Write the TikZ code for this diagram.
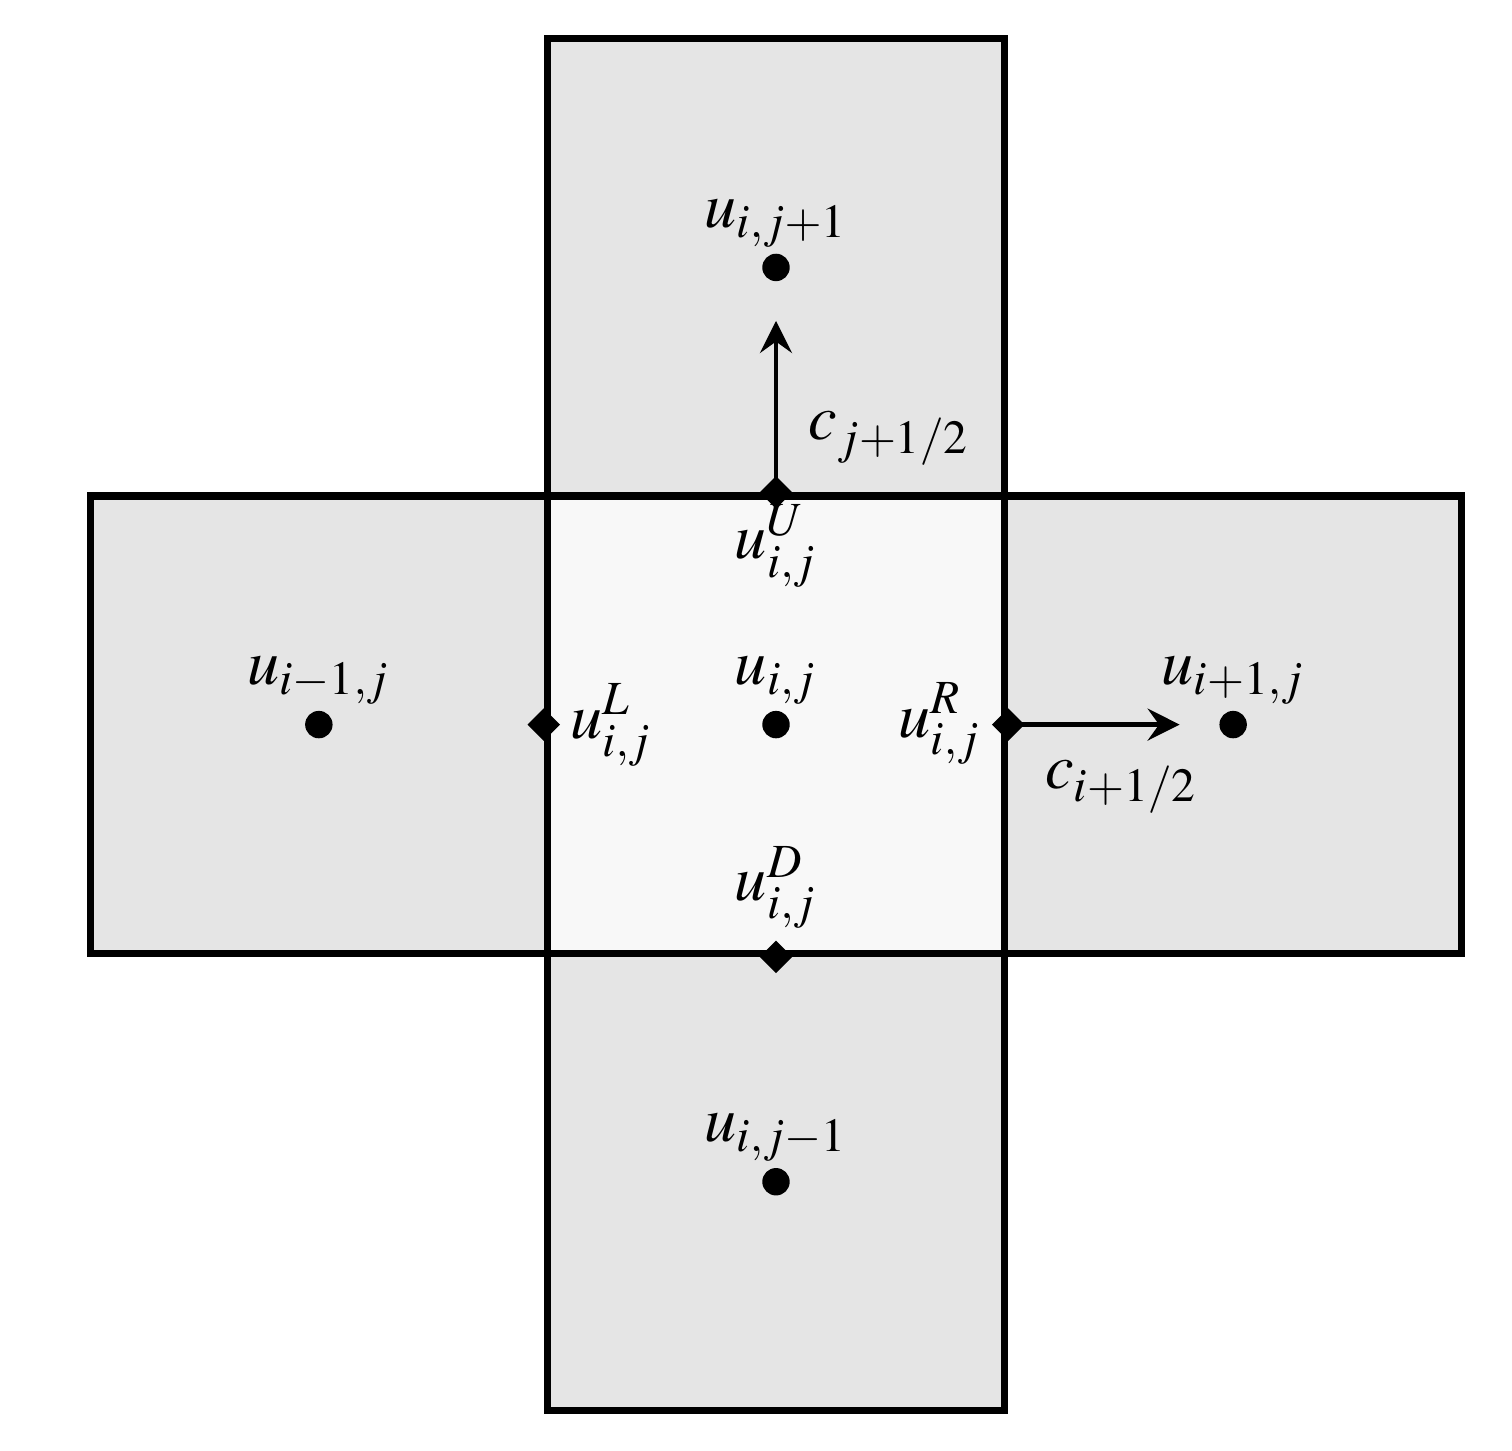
\documentclass[tikz,border=0pt]{standalone}
\usepackage{mathptmx}
\usepackage{tikz}
\usetikzlibrary{arrows.meta,positioning,calc,shapes.geometric}
\definecolor{cellgrey}{HTML}{E5E5E5}
\definecolor{midgrey}{HTML}{F8F8F8}
\tikzset{
  cell/.style       = {draw, line width=1.8pt, fill=cellgrey, minimum size=40mm,
                       inner sep=0pt},
  centre/.style     = {cell, fill=midgrey},
  dot/.style        = {circle, fill, minimum size=2.4mm, inner sep=0pt},
  facept/.style     = {diamond, fill, minimum size=2.9mm, inner sep=0pt},
  flux/.style       = {-{Stealth[length=2.8mm, width=2.8mm, inset=1mm]}, line width=1.1pt},
  lbl/.style        = {anchor=base, inner sep=0pt, font=\fontsize{16}{19}\selectfont},
}
\begin{document}
\begin{tikzpicture}
  \useasboundingbox (-6.79,-6.35) rectangle (6.44,6.34);
  % the five cells
  \node[cell] (up)    at (0,4)  {};
  \node[cell] (down)  at (0,-4) {};
  \node[cell] (left)  at (-4,0) {};
  \node[cell] (right) at (4,0)  {};
  \node[centre] (mid) at (0,0)  {};
  % cell averages
  \node[dot] (cU) at (up)    {};
  \node[dot] (cD) at (down)  {};
  \node[dot] (cL) at (left)  {};
  \node[dot] (cR) at (right) {};
  \node[dot] (cM) at (mid)   {};
  \node[lbl] at ($(cU)+(0,0.35)$) {$u_{i,j+1}$};
  \node[lbl] at ($(cD)+(0,0.35)$) {$u_{i,j-1}$};
  \node[lbl] at ($(cL)+(0,0.35)$) {$u_{i-1,j}$};
  \node[lbl] at ($(cR)+(0,0.35)$) {$u_{i+1,j}$};
  \node[lbl] at ($(cM)+(0,0.35)$) {$u_{i,j}$};
  % reconstructed face values
  \node[facept] (fU) at (mid.north) {};
  \node[facept] (fD) at (mid.south) {};
  \node[facept] (fL) at (mid.west)  {};
  \node[facept] (fR) at (mid.east)  {};
  \node[lbl] at ($(fU)+(0,-0.58)$)    {$u_{i,j}^{U}$};
  \node[lbl] at ($(fD)+(0,0.49)$)     {$u_{i,j}^{D}$};
  \node[lbl] at ($(fL)+(0.59,-0.12)$) {$u_{i,j}^{L}$};
  \node[lbl] at ($(fR)+(-0.60,-0.11)$) {$u_{i,j}^{R}$};
  % local speeds
  \coordinate (aU) at ($(fU)+(0,1.5)$);
  \coordinate (aR) at ($(fR)+(1.5,0)$);
  \draw[flux] (fU.center) -- (aU);
  \draw[flux] (fR.center) -- (aR);
  \node[lbl] at ($(fU)+(0.99,0.46)$)  {$c_{j+1/2}$};
  \node[lbl] at ($(fR)+(0.99,-0.56)$) {$c_{i+1/2}$};
\end{tikzpicture}
\end{document}
